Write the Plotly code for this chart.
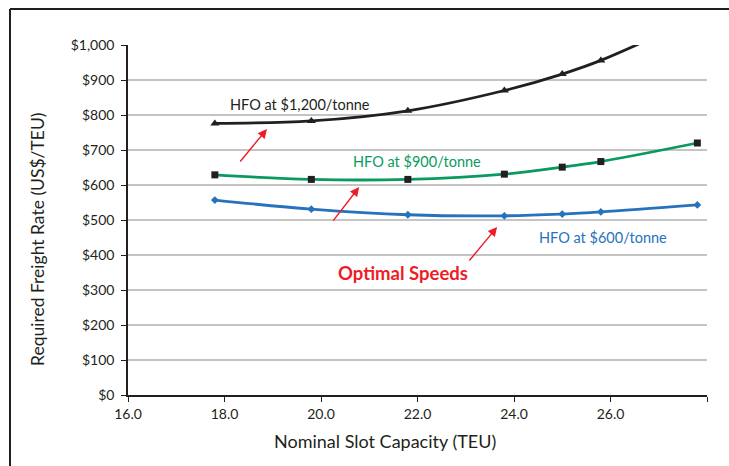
import plotly.graph_objects as go

capacity = [17.8, 19.8, 21.8, 23.8, 25.0, 25.8, 27.8]
hfo_600 = [557, 531, 515, 512, 517, 523, 543]
hfo_900 = [629, 616, 616, 631, 651, 667, 720]
hfo_1200 = [776, 783, 812, 870, 917, 956, 1080]

x_tickvals = [16, 18, 20, 22, 24, 26, 28]
x_ticktext = ["16.0", "18.0", "20.0", "22.0", "24.0", "26.0", ""]
y_tickvals = [0, 100, 200, 300, 400, 500, 600, 700, 800, 900, 1000]
y_ticktext = ["$0", "$100", "$200", "$300", "$400", "$500", "$600", "$700", "$800", "$900", "$1,000"]

FONT = "Lato, Liberation Sans, sans-serif"
BLACK = "#231f20"
GREEN = "#0a9a60"
BLUE = "#2672bd"
RED = "#ee1c25"

fig = go.Figure()
fig.add_trace(go.Scatter(x=capacity, y=hfo_600, mode="lines+markers", line=dict(color=BLUE, width=2.8, shape="spline"),
                         marker=dict(symbol="diamond", size=6, color=BLUE)))
fig.add_trace(go.Scatter(x=capacity, y=hfo_900, mode="lines+markers", line=dict(color=GREEN, width=2.8, shape="spline"),
                         marker=dict(symbol="square", size=7, color=BLACK)))
fig.add_trace(go.Scatter(x=capacity, y=hfo_1200, mode="lines+markers", line=dict(color=BLACK, width=2.8, shape="spline"),
                         marker=dict(symbol="triangle-up", size=8, color=BLACK)))

annotations = [
    dict(x=19.56, y=829, text="HFO at $1,200/tonne", showarrow=False, font=dict(color=BLACK, size=14.5, family=FONT)),
    dict(x=21.99, y=666, text="HFO at $900/tonne", showarrow=False, font=dict(color=GREEN, size=14.5, family=FONT)),
    dict(x=25.84, y=449, text="HFO at $600/tonne", showarrow=False, font=dict(color=BLUE, size=14.5, family=FONT)),
    dict(x=21.70, y=349, text="<b>Optimal Speeds</b>", showarrow=False, font=dict(color=RED, size=18.5, family=FONT)),
    dict(xref="paper", yref="paper", x=-0.1554, y=0.443, xanchor="center", yanchor="middle",
         text="Required Freight Rate (US$/TEU)", textangle=-90,
         showarrow=False, font=dict(color=BLACK, size=17.5, family=FONT)),
    dict(xref="paper", yref="paper", x=0.444, y=-0.131, xanchor="center", yanchor="middle",
         text="Nominal Slot Capacity (TEU)",
         showarrow=False, font=dict(color=BLACK, size=18, family=FONT)),
]
arrows = [((18.30, 663), (18.88, 760)), ((20.23, 494), (20.79, 594)), ((23.05, 380), (23.65, 480))]
for (tx, ty), (hx, hy) in arrows:
    annotations.append(dict(x=hx, y=hy, ax=tx, ay=ty, xref="x", yref="y", axref="x", ayref="y", text="",
                            showarrow=True, arrowhead=2, arrowsize=1.3, arrowwidth=1.4, arrowcolor=RED))

fig.update_layout(
    width=729, height=466,
    margin=dict(l=128, r=22, t=45, b=71),
    paper_bgcolor="white", plot_bgcolor="white",
    showlegend=False,
    font=dict(family=FONT, color=BLACK, size=14),
    annotations=annotations,
    shapes=[
        dict(type="line", xref="paper", yref="paper", x0=-0.2038, x1=1.05, y0=1.103, y1=1.103, line=dict(color=BLACK, width=2)),
        dict(type="line", xref="paper", yref="paper", x0=-0.2038, x1=-0.2038, y0=1.103, y1=-0.25, line=dict(color=BLACK, width=2)),
    ],
)
fig.update_xaxes(range=[16, 28], tickvals=x_tickvals, ticktext=x_ticktext, showgrid=False, zeroline=False,
                 showline=True, linecolor=BLACK, linewidth=1.5, ticks="outside", ticklen=5, tickcolor=BLACK,
                 tickfont=dict(size=14, family=FONT, color=BLACK))
fig.update_yaxes(range=[0, 1000], tickvals=y_tickvals, ticktext=y_ticktext, showgrid=True, gridcolor="#c4c4c4",
                 gridwidth=1.5, zeroline=False, showline=True, linecolor=BLACK, linewidth=1.5, ticks="outside",
                 ticklen=5, tickcolor=BLACK, ticklabelstandoff=4, tickfont=dict(size=14, family=FONT, color=BLACK))

fig.write_html("out.html", config={"displayModeBar": False},
               post_script="document.body.style.margin='0px';document.documentElement.style.overflow='hidden';document.body.style.overflow='hidden';")
